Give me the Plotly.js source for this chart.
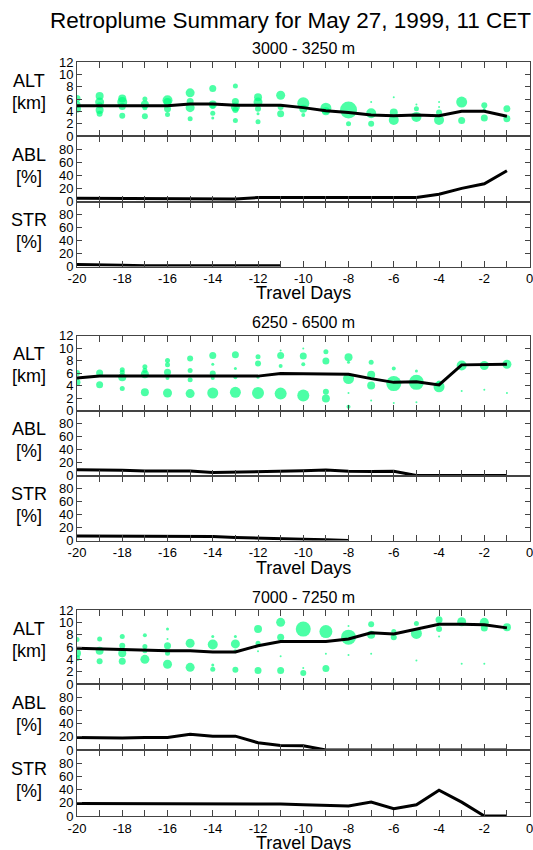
<!DOCTYPE html>
<html>
<head>
<meta charset="utf-8">
<script src="https://cdn.plot.ly/plotly-3.0.1.min.js"></script>
<style>html,body{margin:0;padding:0;background:#fff;}#chart{width:533px;height:850px;}</style>
</head>
<body>
<div id="chart"></div>
<script>
// ---------- DATA ----------
const days = [-20,-19,-18,-17,-16,-15,-14,-13,-12,-11,-10,-9,-8,-7,-6,-5,-4,-3,-2,-1];
const groupTitles = ['3000 - 3250 m', '6250 - 6500 m', '7000 - 7250 m'];
const xTickVals = [-20,-19,-18,-17,-16,-15,-14,-13,-12,-11,-10,-9,-8,-7,-6,-5,-4,-3,-2,-1,0];
const xTickText = ['-20','','-18','','-16','','-14','','-12','','-10','','-8','','-6','','-4','','-2','','0'];
const altTicks = [0,2,4,6,8,10,12];
const pctTicks = [0,20,40,60,80];

// Group 1: 3000 - 3250 m
const g1BubDay  = [-20,-20,-20, -19,-19,-19,-19,-19, -18,-18,-18,-18, -17,-17,-17,-17, -16,-16,-16,-16, -15,-15,-15,-15, -14,-14,-14,-14,-14, -13,-13,-13,-13,-13, -12,-12,-12,-12,-12, -11,-11,-11, -10,-10,-10, -9,-9, -8,-8, -7,-7,-7, -6,-6,-6, -5,-5,-5, -4,-4,-4,-4, -3,-3, -2,-2,-2, -1,-1];
const g1BubAlt  = [6.1,5.1,4.4, 6.5,5.5,5.0,4.2,3.6, 6.1,5.5,4.8,3.3, 6.0,5.1,4.6,3.2, 5.8,5.5,4.4,3.5, 7.0,5.6,4.6,2.8, 7.7,5.1,4.8,3.7,2.9, 8.1,5.6,4.7,4.2,2.5, 6.3,5.5,4.4,3.6,2.3, 6.6,4.7,3.6, 5.3,4.4,3.4, 4.5,4.0, 4.2,2.0, 5.5,3.7,2.0, 6.3,3.8,2.6, 5.1,4.4,3.1, 5.5,4.7,3.8,2.6, 5.5,2.5, 5.0,4.3,2.9, 4.4,2.8];
const g1BubSize = [7,7,8, 8,9,6,8,6, 8,10,7,6, 5,8,5,6, 10,8,7,5, 9,7,9,5, 7,8,5,5,3, 5,7,9,6,5, 8,9,6,3,5, 9,6,7, 12,8,4, 11,8, 17,5, 2,10,6, 2,8,10, 2,5,10, 2,2,6,10, 11,7, 6,3,7, 7,7];
const g1Alt = [4.9,4.9,4.9,4.9,4.9,5.2,5.2,5.0,5.0,5.0,4.6,4.1,3.8,3.4,3.3,3.4,3.3,4.0,4.0,3.2];
const g1Abl = [5,5,5,5,5,4,4,4,6,6,6,6,6,6,6,6,11,20,27,47];
const g1Str = [3,3,2,1,1,1,1,1,1,1,null,null,null,null,null,null,null,null,null,null];

// Group 2: 6250 - 6500 m
const g2BubDay  = [-20,-20, -19,-19, -18,-18,-18,-18, -17,-17,-17,-17, -16,-16,-16,-16,-16, -15,-15,-15,-15, -14,-14,-14,-14,-14, -13,-13,-13,-13, -12,-12,-12,-12, -11,-11,-11,-11, -10,-10,-10,-10, -9,-9,-9,-9, -8,-8,-8,-8,-8, -7,-7,-7,-7, -6,-6,-6, -5,-5,-5, -4,-4, -3,-3, -2,-2, -1,-1];
const g2BubAlt  = [6.0,4.5, 6.0,4.1, 6.5,6.1,5.3,3.5, 7.0,6.4,5.8,2.9, 8.0,7.3,6.1,5.2,2.8, 8.3,6.4,4.9,2.7, 8.8,7.4,5.9,5.2,2.8, 8.9,6.7,5.3,2.9, 8.6,7.5,5.3,2.8, 9.6,8.8,7.1,2.7, 9.9,8.7,7.4,2.4, 9.4,7.9,3.0,1.9, 8.5,7.7,5.1,2.8,0.6, 7.7,5.7,4.0,1.6, 6.7,4.3,1.2, 6.3,4.5,1.3, 4.4,3.8, 7.2,3.1, 7.2,3.3, 7.4,2.8];
const g2BubSize = [6,7, 7,7, 5,5,8,5, 5,5,8,8, 5,5,7,4,9, 6,5,5,9, 7,3,6,4,11, 7,3,4,11, 5,6,3,12, 2,7,4,12, 2,7,4,12, 5,7,6,8, 8,3,11,2,4, 5,8,8,2, 4,15,2, 3,15,2, 5,11, 10,2, 9,2, 9,2];
const g2Alt = [5.2,5.5,5.5,5.5,5.5,5.5,5.5,5.5,5.5,5.9,5.9,5.8,5.8,5.1,4.5,4.6,4.1,7.3,7.3,7.4];
const g2Abl = [9,9,8,7,7,7,4.5,5,5.5,6.5,7.5,8.5,6.5,6,6.5,0,0,0,0,0];
const g2Str = [7,7,7,7,7,7,6,4.5,4,2.5,2,1,0,null,null,null,null,null,null,null];

// Group 3: 7000 - 7250 m
const g3BubDay  = [-20,-20,-20, -19,-19,-19, -18,-18,-18,-18, -17,-17,-17,-17, -16,-16,-16,-16,-16, -15,-15, -14,-14,-14,-14, -13,-13,-13,-13, -12,-12,-12,-12, -11,-11,-11,-11, -10,-10,-10, -9,-9,-9, -8,-8,-8, -7,-7,-7, -6,-6, -5,-5,-5, -4,-4,-4, -3,-3, -2,-2,-2, -1];
const g3BubAlt  = [7.2,5.0,4.2, 7.3,5.4,3.7, 7.7,6.2,5.0,3.7, 7.9,6.1,5.4,4.0, 8.9,7.3,6.2,5.0,3.2, 6.6,2.7, 7.7,6.4,3.1,2.4, 7.7,6.5,5.3,2.3, 8.9,6.6,5.3,2.2, 10.0,7.6,4.5,2.2, 8.9,2.6,1.8, 8.5,4.9,2.5, 9.4,7.6,4.7, 9.7,8.0,4.9, 8.5,7.6, 9.8,8.2,3.8, 10.4,8.9,7.7, 10.1,3.3, 10.0,9.1,3.3, 9.2];
const g3BubSize = [5,8,6, 5,8,6, 5,6,8,7, 4,5,5,9, 3,2,7,5,9, 9,9, 3,10,3,5, 3,9,4,6, 8,5,2,7, 9,7,2,7, 15,2,6, 13,2,7, 2,15,2, 6,8,2, 5,6, 5,11,2, 7,6,2, 9,2, 9,7,2, 8];
const g3Alt = [5.8,5.7,5.5,5.5,5.4,5.4,5.2,5.2,6.2,6.9,6.9,6.9,7.3,8.3,8.1,8.9,9.7,9.7,9.6,9.1];
const g3Abl = [19,18,18,19,19,24,21,21,11,7,6.5,0,0,0,0,0,0,0,0,0];
const g3Str = [19,19,19,19,19,18,18,18,18,18,17,16,15,21,11,17,39,21,0,0];

// ---------- LAYOUT (pixel geometry) ----------
const W = 533, H = 850;
const plotLeft = 77, plotRight = 530;
// [ALT top, ALT/ABL, ABL/STR, STR bottom] for each group
const groupEdges = [[62,136,201.5,266.5],[335.5,410.5,475.5,540.5],[610,684,750,816]];
const FONT = 'Liberation Sans, Arial, Helvetica, sans-serif';
const GREEN = '#00ff80';
const FRAME = '#444';

const bubbles = [[g1BubDay,g1BubAlt,g1BubSize],[g2BubDay,g2BubAlt,g2BubSize],[g3BubDay,g3BubAlt,g3BubSize]];
const lines = [[g1Alt,g1Abl,g1Str],[g2Alt,g2Abl,g2Str],[g3Alt,g3Abl,g3Str]];
const panelLabels = [['ALT','[km]'],['ABL','[%]'],['STR','[%]']];

const traces = [];
const layout = {
  width: W, height: H,
  margin: {l:0, r:0, t:0, b:0},
  paper_bgcolor: '#fff', plot_bgcolor: '#fff',
  showlegend: false,
  font: {family: FONT, color: '#000', size: 13},
  annotations: []
};
const py = v => 1 - v / H;
const px = v => v / W;

function ann(text, x, y, size, xanchor) {
  layout.annotations.push({text: text, x: px(x), y: py(y), xref: 'paper', yref: 'paper',
    showarrow: false, xanchor: xanchor || 'center', yanchor: 'middle',
    font: {family: FONT, size: size, color: '#000'}});
}

ann('Retroplume Summary for May 27, 1999, 11 CET', 290, 21, 22.5);

for (let g = 0; g < 3; g++) {
  const e = groupEdges[g];
  ann(groupTitles[g], (plotLeft + plotRight) / 2, e[0] - 13, 16);
  ann('Travel Days', (plotLeft + plotRight) / 2, e[3] + 27, 18);
  for (let p = 0; p < 3; p++) {
    const n = g * 3 + p + 1;
    const xa = 'xaxis' + (n === 1 ? '' : n);
    const ya = 'yaxis' + (n === 1 ? '' : n);
    const xr = 'x' + (n === 1 ? '' : n);
    const yr = 'y' + (n === 1 ? '' : n);
    const top = e[p], bottom = e[p + 1];
    layout[xa] = {
      domain: [px(plotLeft), px(plotRight)], anchor: yr, range: [-20, 0.02],
      tickmode: 'array', tickvals: xTickVals, ticktext: xTickText,
      ticks: 'inside', ticklen: 6, tickwidth: 1, tickcolor: FRAME,
      showline: true, linecolor: FRAME, linewidth: 1, mirror: 'ticks',
      showgrid: false, zeroline: false, showticklabels: p === 2,
      ticklabeloverflow: 'allow',
      tickfont: {family: FONT, size: 13, color: '#000'}, fixedrange: true
    };
    layout[ya] = {
      domain: [py(bottom), py(top)], anchor: xr,
      range: p === 0 ? [0, 12] : [0, 100],
      tickmode: 'array', tickvals: p === 0 ? altTicks : pctTicks,
      ticks: 'inside', ticklen: 5, tickwidth: 1, tickcolor: FRAME,
      showline: true, linecolor: FRAME, linewidth: 1, mirror: 'ticks',
      showgrid: false, zeroline: false, ticklabelstandoff: 0,
      ticklabeloverflow: 'allow',
      tickfont: {family: FONT, size: 13, color: '#000'}, fixedrange: true
    };
    if (p === 0) {
      const b = bubbles[g];
      traces.push({x: b[0], y: b[1], xaxis: xr, yaxis: yr, type: 'scatter', mode: 'markers',
        marker: {size: b[2], color: GREEN, line: {width: 0}}, hoverinfo: 'skip'});
    }
    traces.push({x: days, y: lines[g][p], xaxis: xr, yaxis: yr, type: 'scatter', mode: 'lines',
      line: {color: '#000', width: 3}, connectgaps: false, hoverinfo: 'skip'});
    ann(panelLabels[p][0], 29, top + 18.5, 18);
    ann(panelLabels[p][1], 29, top + 40.5, 18);
  }
}

Plotly.newPlot('chart', traces, layout, {displayModeBar: false, staticPlot: true});
</script>
</body>
</html>
